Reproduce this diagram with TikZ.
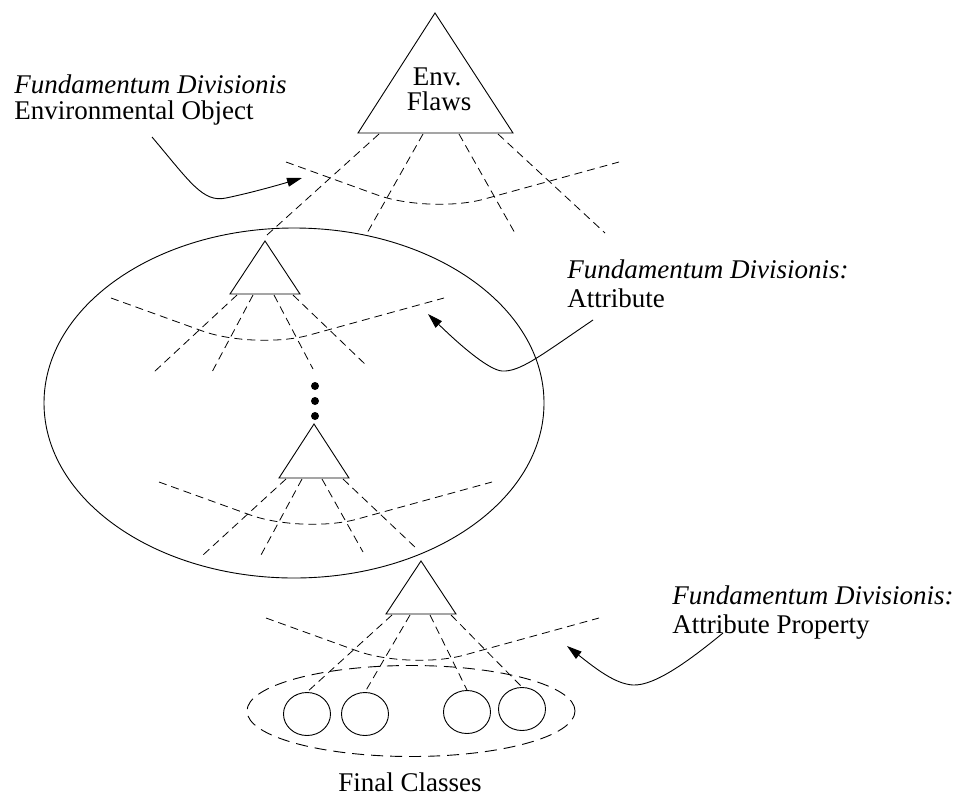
\documentclass[tikz,border=0pt]{standalone}
\usepackage{fontspec}
\setmainfont{Liberation Serif}
\usetikzlibrary{arrows.meta,shapes.geometric}
\begin{document}
\begin{tikzpicture}[x=1pt,y=-1pt,line width=0.9pt,
  fd/.style={dash pattern=on 8pt off 5pt,line width=0.8pt},
  fdc/.style={fd,rounded corners=56pt},
  tri/.style={line width=0.9pt,line join=miter},
  arr/.style={-{Triangle[length=15pt,width=9pt]},line width=0.9pt},
  lbl/.style={anchor=base west,inner sep=0pt,font=\fontsize{27}{29}\selectfont},
  ctext/.style={anchor=base,inner sep=0pt,font=\fontsize{27}{29}\selectfont},
  cls/.style={draw,ellipse,minimum width=47pt,minimum height=43pt,inner sep=0pt,line width=0.9pt},
  grp/.style={draw,ellipse,minimum width=328pt,minimum height=91pt,inner sep=0pt,dash pattern=on 12pt off 7pt,line width=0.9pt},
  dotc/.style={circle,fill,inner sep=0pt,minimum size=8pt}
]
\useasboundingbox (0,0) rectangle (957,795);

% ---------- top triangle ----------
\coordinate (t1a) at (435,13);
\coordinate (t1l) at (358,133);
\coordinate (t1r) at (513,133);
\draw[tri] (t1a) -- (t1r) -- (t1l) -- cycle;
\node[ctext] (env) at (437,85) {Env.};
\node[ctext] (flaws) at (439,110) {Flaws};
\coordinate (t1s1) at (379,134); \coordinate (t1e1) at (267,235);
\coordinate (t1s2) at (423,134); \coordinate (t1e2) at (366,235);
\coordinate (t1s3) at (459,134); \coordinate (t1e3) at (516,235);
\coordinate (t1s4) at (498,134); \coordinate (t1e4) at (605,233);
\foreach \i in {1,...,4} \draw[fd] (t1s\i) -- (t1e\i);
\draw[fdc] (286,162) -- ++(144,52) -- ++(189,-52);

% ---------- big ellipse ----------
\draw (294,403) ellipse [x radius=250pt,y radius=175pt];

% ---------- second triangle ----------
\coordinate (t2a) at (265,241);
\coordinate (t2l) at (230,294);
\coordinate (t2r) at (300,294);
\draw[tri] (t2a) -- (t2r) -- (t2l) -- cycle;
\coordinate (t2s1) at (237,295); \coordinate (t2e1) at (154,372);
\coordinate (t2s2) at (253,295); \coordinate (t2e2) at (212,372);
\coordinate (t2s3) at (274,295); \coordinate (t2e3) at (313,369);
\coordinate (t2s4) at (293,295); \coordinate (t2e4) at (367,366);
\foreach \i in {1,...,4} \draw[fd] (t2s\i) -- (t2e\i);
\draw[fdc] (111,298) -- ++(144,52) -- ++(189,-52);

% dots
\node[dotc] (d1) at (315,386) {};
\node[dotc] (d2) at (315,401) {};
\node[dotc] (d3) at (315,416) {};

% ---------- third triangle ----------
\coordinate (t3a) at (314,424);
\coordinate (t3l) at (279,478);
\coordinate (t3r) at (349,478);
\draw[tri] (t3a) -- (t3r) -- (t3l) -- cycle;
\coordinate (t3s1) at (286,479); \coordinate (t3e1) at (203,555);
\coordinate (t3s2) at (302,479); \coordinate (t3e2) at (261,555);
\coordinate (t3s3) at (322,479); \coordinate (t3e3) at (363,552);
\coordinate (t3s4) at (343,479); \coordinate (t3e4) at (417,549);
\foreach \i in {1,...,4} \draw[fd] (t3s\i) -- (t3e\i);
\draw[fdc] (159,482) -- ++(144,52) -- ++(189,-52);

% ---------- fourth triangle ----------
\coordinate (t4a) at (421,561);
\coordinate (t4l) at (386,614);
\coordinate (t4r) at (456,614);
\draw[tri] (t4a) -- (t4r) -- (t4l) -- cycle;
\draw[fdc] (266,618) -- ++(144,52) -- ++(189,-52);

% final classes
\node[grp] (fc) at (411,711) {};
\node[cls] (c1) at (307,714) {};
\node[cls] (c2) at (365,714) {};
\node[cls] (c3) at (467,712) {};
\node[cls] (c4) at (522,709) {};
\coordinate (t4s1) at (392,615);
\coordinate (t4s2) at (410,615);
\coordinate (t4s3) at (430,615);
\coordinate (t4s4) at (451,615);
\foreach \i in {1,...,4} \draw[fd] (t4s\i) -- (c\i.north);
\node[ctext] (fct) at (410,791) {Final Classes};

% ---------- labels ----------
\node[lbl] (l1a) at (14,93) {\itshape Fundamentum Divisionis};
\node[lbl] (l1b) at (14,119) {Environmental Object};
\node[lbl] (l2a) at (567,278) {\itshape Fundamentum Divisionis:};
\node[lbl] (l2b) at (567,307) {Attribute};
\node[lbl] (l3a) at (672,604) {\itshape Fundamentum Divisionis:};
\node[lbl] (l3b) at (672,633) {Attribute Property};

% ---------- arrows ----------
\coordinate (a1s) at (152,137); \coordinate (a1e) at (302,178);
\coordinate (a2s) at (593,320); \coordinate (a2e) at (428,314);
\coordinate (a3s) at (723,633); \coordinate (a3e) at (567,646);
\draw[arr] (a1s) .. controls (190,182) and (203,203) .. (226,198)
  .. controls (250,193) and (275,186) .. (a1e);
\draw[arr] (a2s) .. controls (540,356) and (520,372) .. (502,371)
  .. controls (490,370) and (465,350) .. (a2e);
\draw[arr] (a3s) .. controls (690,660) and (655,686) .. (633,685)
  .. controls (615,684) and (595,668) .. (a3e);
\end{tikzpicture}
\end{document}
